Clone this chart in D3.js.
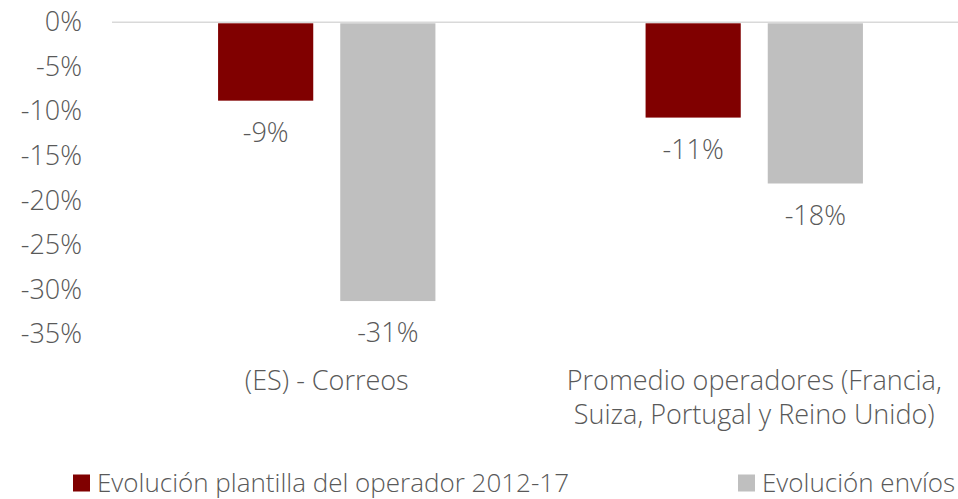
<!DOCTYPE html>
<html>
<head>
<meta charset="utf-8">
<script src="https://cdn.jsdelivr.net/npm/d3@7"></script>
<style>
  body { margin: 0; background: #fff; }
  svg text { font-family: "Open Sans", sans-serif; font-weight: 300; fill: #595959; }
</style>
</head>
<body>
<div id="chart"></div>
<script>
const categories = [['(ES) - Correos'], ['Promedio operadores (Francia,', 'Suiza, Portugal y Reino Unido)']];
const seriesNames = ['Evolución plantilla del operador 2012-17', 'Evolución envíos'];
const plantilla = [-8.8, -10.7];
const envios = [-31.3, -18.1];
const yTicks = [0, -5, -10, -15, -20, -25, -30, -35];

const W = 958, H = 499;
const colors = ['#800000', '#bfbfbf'];
const fontSize = 27;

const svg = d3.select('#chart').append('svg')
  .attr('width', W).attr('height', H);

const x = d3.scaleBand()
  .domain(d3.range(categories.length))
  .range([113, 968])
  .paddingInner(0).paddingOuter(0);

const x1 = d3.scaleBand()
  .domain([0, 1])
  .range([0, x.bandwidth()])
  .paddingInner(0.221).paddingOuter(0.86);

const y = d3.scaleLinear()
  .domain([0, -35])
  .range([22.3, 334]);

// y axis labels
const yAxis = svg.append('g')
  .attr('transform', 'translate(82,0)')
  .call(d3.axisLeft(y).tickValues(yTicks).tickSize(0).tickPadding(0).tickFormat(d => d + '%'));
yAxis.select('.domain').remove();
yAxis.selectAll('text')
  .style('font-size', fontSize + 'px')
  .attr('fill', '#595959');

// zero line
svg.append('line')
  .attr('x1', 112).attr('x2', W)
  .attr('y1', y(0)).attr('y2', y(0))
  .attr('stroke', '#d9d9d9').attr('stroke-width', 1.5);

const series = [plantilla, envios];
series.forEach((vals, si) => {
  const g = svg.append('g');
  g.selectAll('rect').data(vals).join('rect')
    .attr('x', (d, i) => x(i) + x1(si))
    .attr('width', x1.bandwidth())
    .attr('y', y(0) + 1)
    .attr('height', d => y(d) - y(0) - 1)
    .attr('fill', colors[si]);
  g.selectAll('text').data(vals).join('text')
    .attr('x', (d, i) => x(i) + x1(si) + x1.bandwidth() / 2)
    .attr('y', d => y(d) + 32)
    .attr('dy', '0.35em')
    .attr('text-anchor', 'middle')
    .style('font-size', fontSize + 'px')
    .text(d => Math.round(d) + '%');
});

// category labels
categories.forEach((lines, i) => {
  const t = svg.append('text')
    .attr('text-anchor', 'middle')
    .style('font-size', fontSize + 'px');
  lines.forEach((ln, li) => {
    t.append('tspan')
      .attr('x', x(i) + x.bandwidth() / 2)
      .attr('y', 381 + li * 34)
      .attr('dy', '0.35em')
      .text(ln);
  });
});

// legend
const legendX = [73, 738];
seriesNames.forEach((name, si) => {
  const lg = svg.append('g').attr('transform', `translate(${legendX[si]},483)`);
  lg.append('rect').attr('x', 0).attr('y', -8.5).attr('width', 17).attr('height', 17).attr('fill', colors[si]);
  lg.append('text').attr('x', 24).attr('y', 0).attr('dy', '0.35em')
    .style('font-size', '26px').text(name);
});
</script>
</body>
</html>
